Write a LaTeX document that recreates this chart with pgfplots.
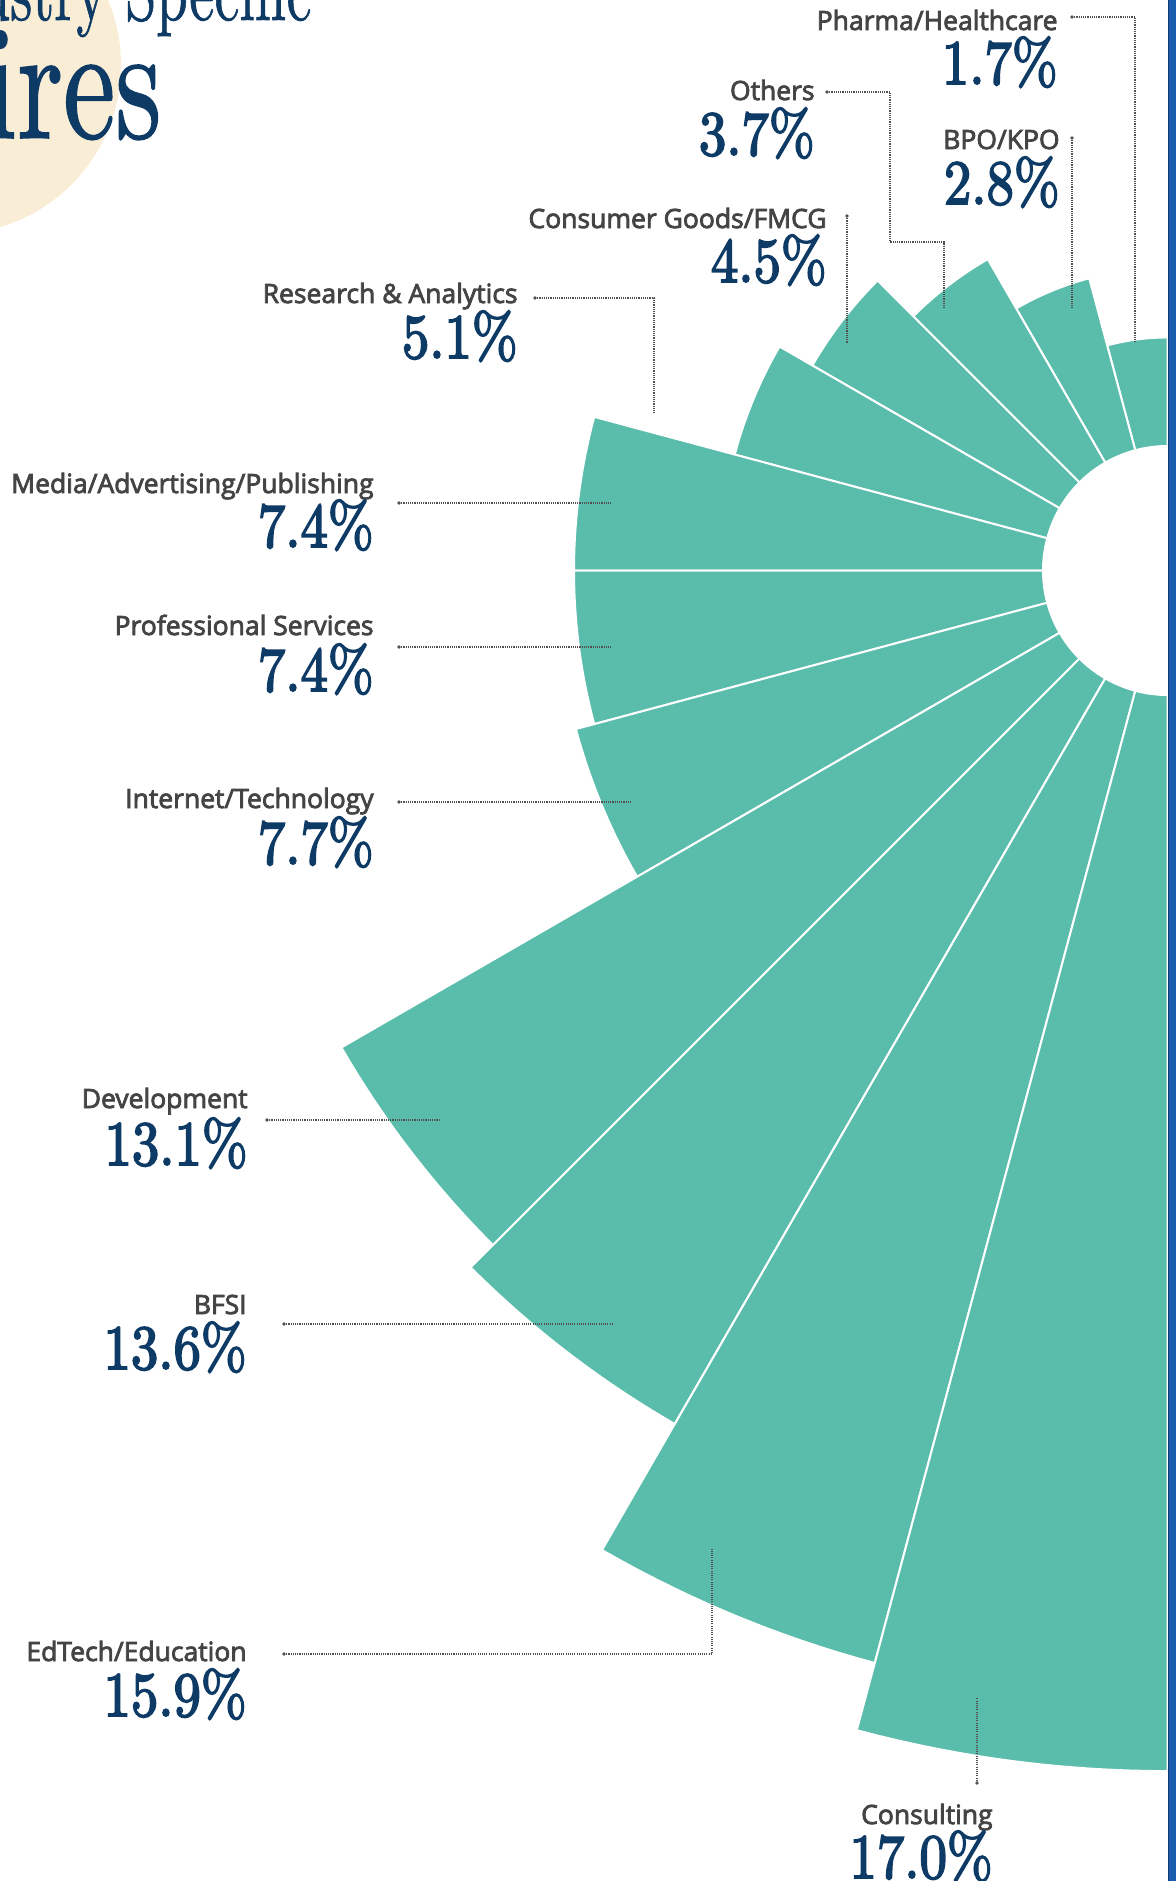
\documentclass[border=0pt]{standalone}
\usepackage{pgfplots}
\pgfplotsset{compat=1.18}
\usepackage{fontspec}
\newfontfamily\labfont{Open Sans}[FakeBold=3]
\newfontfamily\pctfont{lmroman10-regular.otf}[FakeBold=3]
\newfontfamily\titfont{lmroman10-regular.otf}[FakeBold=1]
\definecolor{teal1}{HTML}{5ABDAB}
\definecolor{navy}{HTML}{0E3A66}
\definecolor{labgray}{HTML}{444444}
\definecolor{beige}{HTML}{F9EDD6}
\definecolor{leadc}{HTML}{505050}
\definecolor{edgeblue}{HTML}{1A5CAD}
\definecolor{edgedark}{HTML}{0E3A6E}
\tikzset{lead/.style={leadc, line width=0.6pt, dash pattern=on 0.55pt off 0.55pt}}
% #1 right x, #2 label baseline, #3 percent baseline, #4 label, #5 percent
\newcommand{\lab}[5]{%
  \node[anchor=base east, text=labgray, inner sep=0pt, font=\labfont\fontsize{13.25pt}{15pt}\selectfont] at (#1,#2) {#4};
  \node[anchor=base east, text=navy, inner sep=0pt, font=\pctfont\fontsize{31.5pt}{34pt}\selectfont] at (#1,#3) {\scalebox{0.87}[1]{#5}};}
\newcommand{\dotat}[2]{\fill[leadc] (#1,#2) circle (0.9pt);}
% sector: start angle, end angle, value (%)
\newcommand{\sector}[3]{%
  \addplot[fill=teal1, draw=white, line width=1pt, domain=#1:#2, samples=40]
    ({(1.985+#3)*cos(x)}, {(1.985+#3)*sin(x)}) -- (axis cs:0,0) -- cycle;}
\begin{document}
\begin{tikzpicture}
\useasboundingbox (0,0) rectangle (588pt,-940.5pt);
\clip (0,0) rectangle (588pt,-940.5pt);
\begin{scope}[x=0.5pt,y=-0.5pt]
  \fill[beige] (-48,65) circle (84.5pt);
  \node[anchor=base east, text=navy, inner sep=0pt, font=\titfont\fontsize{41.5pt}{44pt}\selectfont] at (312,20) {\scalebox{0.68}[1]{Industry Specific}};
  \node[anchor=base east, text=navy, inner sep=0pt, font=\titfont\fontsize{81.5pt}{85pt}\selectfont] at (162,138) {\scalebox{0.72}[1]{Hires}};
\end{scope}
\begin{axis}[at={(583.75pt,-285.25pt)}, anchor=origin, x=31.62pt, y=31.62pt,
  xmin=-20, xmax=0, ymin=-20, ymax=20, hide axis, clip=false]
  \sector{90}{105}{1.7}    % Pharma/Healthcare
  \sector{105}{120}{2.8}   % BPO/KPO
  \sector{120}{135}{3.7}   % Others
  \sector{135}{150}{4.5}   % Consumer Goods/FMCG
  \sector{150}{165}{5.1}   % Research & Analytics
  \sector{165}{180}{7.4}   % Media/Advertising/Publishing
  \sector{180}{195}{7.4}   % Professional Services
  \sector{195}{210}{7.7}   % Internet/Technology
  \sector{210}{225}{13.1}  % Development
  \sector{225}{240}{13.6}  % BFSI
  \sector{240}{255}{15.9}  % EdTech/Education
  \sector{255}{270}{17.0}  % Consulting
  \addplot[fill=white, draw=none, domain=0:360, samples=120]
    ({1.985*cos(x)}, {1.985*sin(x)}) -- cycle;
\end{axis}
\begin{scope}[x=0.5pt,y=-0.5pt]
  % leaders
  \draw[lead] (1072,17) -- (1135,17) -- (1135,343); \dotat{1072}{17}
  \draw[lead] (1072,138) -- (1072,308); \dotat{1072}{138}
  \draw[lead] (827,92) -- (890,92) -- (890,242) -- (944,242) -- (944,308); \dotat{827}{92}
  \draw[lead] (847,216) -- (847,343); \dotat{847}{216}
  \draw[lead] (535,298) -- (654,298) -- (654,414); \dotat{535}{298}
  \draw[lead] (399,503) -- (612,503); \dotat{399}{503}
  \draw[lead] (399,647) -- (612,647); \dotat{399}{647}
  \draw[lead] (399,802) -- (632,802); \dotat{399}{802}
  \draw[lead] (267,1120) -- (439,1120); \dotat{267}{1120}
  \draw[lead] (284,1324) -- (613,1324); \dotat{284}{1324}
  \draw[lead] (284,1654) -- (712,1654) -- (712,1549); \dotat{284}{1654}
  \draw[lead] (977,1783) -- (977,1698); \dotat{977}{1783}
  % labels
  \lab{1058}{30}{84}{Pharma/Healthcare}{1.7\%}
  \lab{1060}{149}{204}{BPO/KPO}{2.8\%}
  \lab{815}{100}{155}{Others}{3.7\%}
  \lab{827}{228}{282}{Consumer Goods/FMCG}{4.5\%}
  \lab{518}{303}{358}{Research \& Analytics}{5.1\%}
  \lab{374}{493}{547}{Media/Advertising/Publishing}{7.4\%}
  \lab{374}{635}{691}{Professional Services}{7.4\%}
  \lab{374}{808}{864}{Internet/Technology}{7.7\%}
  \lab{248}{1108}{1165}{Development}{13.1\%}
  \lab{247}{1314}{1369}{BFSI}{13.6\%}
  \lab{247}{1661}{1716}{EdTech/Education}{15.9\%}
  \lab{993}{1824}{1878}{Consulting}{17.0\%}
  % right edge
  \fill[edgeblue] (1168,0) rectangle (1176,1881);
  \fill[edgedark] (1167.5,0) rectangle (1169,1881);
\end{scope}
\end{tikzpicture}
\end{document}
